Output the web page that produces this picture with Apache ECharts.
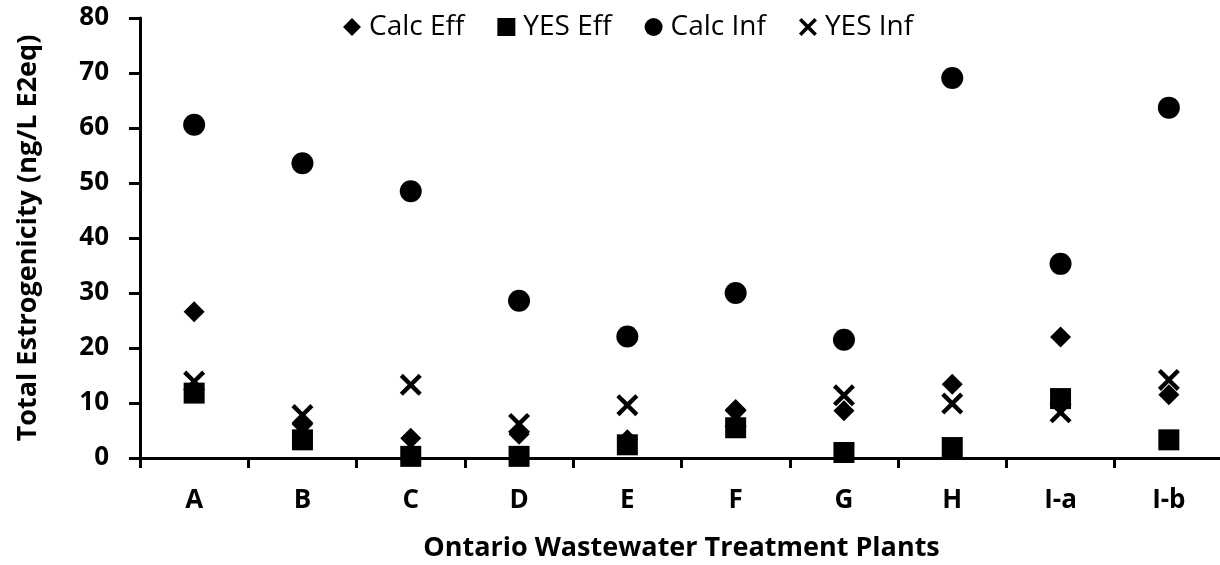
<!DOCTYPE html>
<html>
<head>
<meta charset="utf-8">
<script src="https://cdn.jsdelivr.net/npm/echarts@6/dist/echarts.min.js"></script>
<style>
  html, body { margin: 0; padding: 0; background: #fff; }
  #chart { width: 1220px; height: 565px; }
</style>
</head>
<body>
<div id="chart"></div>
<script>
// Ontario wastewater treatment plants
const plants = ['A', 'B', 'C', 'D', 'E', 'F', 'G', 'H', 'I-a', 'I-b'];

// Total estrogenicity, ng/L E2eq
const calcEff = [26.6, 6.1, 3.6, 4.3, 3.3, 8.8, 8.6, 13.4, 22.0, 11.5];
const yesEff  = [11.8, 3.3, 0.3, 0.3, 2.4, 5.5, 1.0, 1.9, 10.8, 3.3];
const calcInf = [60.6, 53.6, 48.5, 28.6, 22.1, 30.0, 21.5, 69.1, 35.3, 63.7];
const yesInf  = [13.9, 7.8, 13.3, 6.2, 9.6, 7.2, 11.4, 9.9, 8.3, 14.2];

const yTicks = { min: 0, max: 80, step: 10 };

// Bold cross marker
const crossPath = 'path://M0,1.4 L1.4,0 L5,3.6 L8.6,0 L10,1.4 L6.4,5 L10,8.6 L8.6,10 L5,6.4 L1.4,10 L0,8.6 L3.6,5 Z';

const fontFamily = '"Open Sans", "Noto Sans", sans-serif';

const chart = echarts.init(document.getElementById('chart'), null, { renderer: 'canvas' });

function scatter(name, data, symbol, size) {
  return {
    name: name,
    type: 'scatter',
    data: data,
    symbol: symbol,
    symbolSize: size,
    itemStyle: { color: '#000', opacity: 1 },
    emphasis: { disabled: true }
  };
}

chart.setOption({
  animation: false,
  backgroundColor: '#fff',
  textStyle: { fontFamily: fontFamily },
  grid: {
    left: 140, top: 18, width: 1083, height: 440,
    containLabel: false,
    outerBoundsMode: 'none'
  },
  legend: {
    top: 8,
    left: 338,
    itemWidth: 18,
    itemHeight: 18,
    itemGap: 33,
    itemStyle: { opacity: 1 },
    textStyle: { fontSize: 28, color: '#000', fontFamily: fontFamily, padding: [0, 0, 0, 3] },
    data: [
      { name: 'Calc Eff', icon: 'diamond' },
      { name: 'YES Eff', icon: 'rect' },
      { name: 'Calc Inf', icon: 'circle' },
      { name: 'YES Inf', icon: crossPath }
    ]
  },
  xAxis: {
    type: 'category',
    data: plants,
    boundaryGap: true,
    name: 'Ontario Wastewater Treatment Plants',
    nameLocation: 'middle',
    nameGap: 77,
    nameTextStyle: { fontSize: 27, fontWeight: 'bold', color: '#000' },
    axisLine: { lineStyle: { color: '#000', width: 3 } },
    axisTick: { show: true, length: 10, lineStyle: { color: '#000', width: 3 } },
    axisLabel: { margin: 30, fontSize: 26, fontWeight: 'bold', color: '#000' },
    splitLine: { show: false }
  },
  yAxis: {
    type: 'value',
    min: yTicks.min,
    max: yTicks.max,
    interval: yTicks.step,
    name: 'Total Estrogenicity (ng/L E2eq)',
    nameLocation: 'middle',
    nameGap: 98,
    nameTextStyle: { fontSize: 27, fontWeight: 'bold', color: '#000' },
    axisLine: { show: true, lineStyle: { color: '#000', width: 3 } },
    axisTick: { show: true, length: 11, lineStyle: { color: '#000', width: 3 } },
    axisLabel: { margin: 31, fontSize: 26, fontWeight: 'bold', color: '#000' },
    splitLine: { show: false }
  },
  series: [
    scatter('Calc Eff', calcEff, 'diamond', 21),
    scatter('YES Eff', yesEff, 'rect', 21),
    scatter('Calc Inf', calcInf, 'circle', 22),
    scatter('YES Inf', yesInf, crossPath, 22)
  ]
});
</script>
</body>
</html>
